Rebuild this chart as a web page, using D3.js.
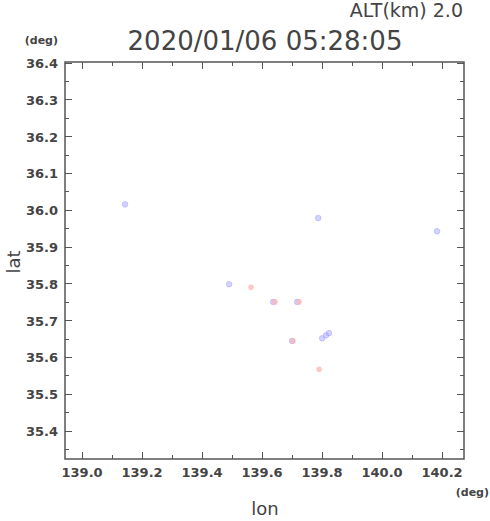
<!DOCTYPE html>
<html><head><meta charset="utf-8">
<script src="https://cdn.jsdelivr.net/npm/d3@7"></script>
<style>body{margin:0;background:#fff}svg{display:block}text{font-family:"DejaVu Sans",sans-serif}</style>
</head><body>
<script>
const title = "2020/01/06 05:28:05";
const altLabel = "ALT(km) 2.0";
const lonTicks = [139.0, 139.2, 139.4, 139.6, 139.8, 140.0, 140.2];
const latTicks = [35.4, 35.5, 35.6, 35.7, 35.8, 35.9, 36.0, 36.1, 36.2, 36.3, 36.4];
const lonDomain = [138.943, 140.273];
const latDomain = [35.324, 36.403];
// points: [lon, lat]
const bluePts = [[139.143,36.016],[139.490,35.799],[139.637,35.751],[139.717,35.751],[139.787,35.979],[139.700,35.645],[139.800,35.652],[139.813,35.660],[139.823,35.666],[140.183,35.943]];
const pinkPts = [[139.563,35.791],[139.643,35.751],[139.723,35.751],[139.703,35.645],[139.790,35.568]];

const W=490,H=521;
const svg=d3.select("body").append("svg").attr("width",W).attr("height",H);
const L=65,R=464,T=62,B=459;
const x=d3.scaleLinear().domain(lonDomain).range([L,R]);
const y=d3.scaleLinear().domain(latDomain).range([B,T]);

const defs=svg.append("defs");
defs.append("filter").attr("id","blur").append("feGaussianBlur").attr("stdDeviation",0.7);

// points
const g=svg.append("g").attr("filter","url(#blur)");
g.selectAll("circle.b").data(bluePts).join("circle").attr("class","b")
 .attr("cx",d=>x(d[0])).attr("cy",d=>y(d[1])).attr("r",2.8).attr("fill","#a8a8ff").attr("fill-opacity",0.5)
 .attr("stroke","#9090ff").attr("stroke-opacity",0.5).attr("stroke-width",0.8);
g.selectAll("circle.p").data(pinkPts).join("circle").attr("class","p")
 .attr("cx",d=>x(d[0])).attr("cy",d=>y(d[1])).attr("r",2.8).attr("fill","#ffb0b0").attr("fill-opacity",0.7);

// axes
const col="#555";
const lonMinor=d3.range(139.0,140.25,0.1).filter(v=>Math.abs(Math.round(v*5)-v*5)>0.01);
const latMinor=d3.range(35.35,36.4,0.1);
function ticksX(g,vals,len){
  g.selectAll(null).data(vals).join("line").attr("x1",d=>x(d)).attr("x2",d=>x(d)).attr("y1",B).attr("y2",B-len).attr("stroke",col);
  g.selectAll(null).data(vals).join("line").attr("x1",d=>x(d)).attr("x2",d=>x(d)).attr("y1",T).attr("y2",T+len).attr("stroke",col);
}
function ticksY(g,vals,len){
  g.selectAll(null).data(vals).join("line").attr("y1",d=>y(d)).attr("y2",d=>y(d)).attr("x1",L).attr("x2",L+len).attr("stroke",col);
  g.selectAll(null).data(vals).join("line").attr("y1",d=>y(d)).attr("y2",d=>y(d)).attr("x1",R).attr("x2",R-len).attr("stroke",col);
}
const ax=svg.append("g").attr("shape-rendering","crispEdges");
ticksX(ax,lonTicks,7); ticksX(ax,lonMinor,4);
ticksY(ax,latTicks,7); ticksY(ax,latMinor,4);
svg.append("rect").attr("x",L).attr("y",T).attr("width",R-L).attr("height",B-T).attr("fill","none").attr("stroke",col).attr("stroke-width",1.5);

// tick labels
svg.selectAll("text.xl").data(lonTicks).join("text").attr("class","xl")
 .attr("x",d=>x(d)).attr("y",B+18).attr("text-anchor","middle").attr("font-size",13).attr("font-weight","bold").attr("fill","#444").text(d=>d.toFixed(1));
svg.selectAll("text.yl").data(latTicks).join("text").attr("class","yl")
 .attr("x",L-7).attr("y",d=>y(d)+5).attr("text-anchor","end").attr("font-size",13).attr("font-weight","bold").attr("fill","#444").text(d=>d.toFixed(1));

svg.append("text").attr("x",58).attr("y",44).attr("text-anchor","end").attr("font-size",11).attr("font-weight","bold").attr("fill","#444").text("(deg)");
svg.append("text").attr("x",489).attr("y",496).attr("text-anchor","end").attr("font-size",11).attr("font-weight","bold").attr("fill","#444").text("(deg)");
svg.append("text").attr("x",265).attr("y",515).attr("text-anchor","middle").attr("font-size",18).attr("fill","#444").text("lon");
svg.append("text").attr("transform","translate(20,262) rotate(-90)").attr("text-anchor","middle").attr("font-size",18).attr("fill","#444").text("lat");
svg.append("text").attr("x",265).attr("y",50).attr("text-anchor","middle").attr("font-size",26).attr("fill","#444").text(title);
svg.append("text").attr("x",463).attr("y",17).attr("text-anchor","end").attr("font-size",19).attr("fill","#444").text(altLabel);
</script>
</body></html>
